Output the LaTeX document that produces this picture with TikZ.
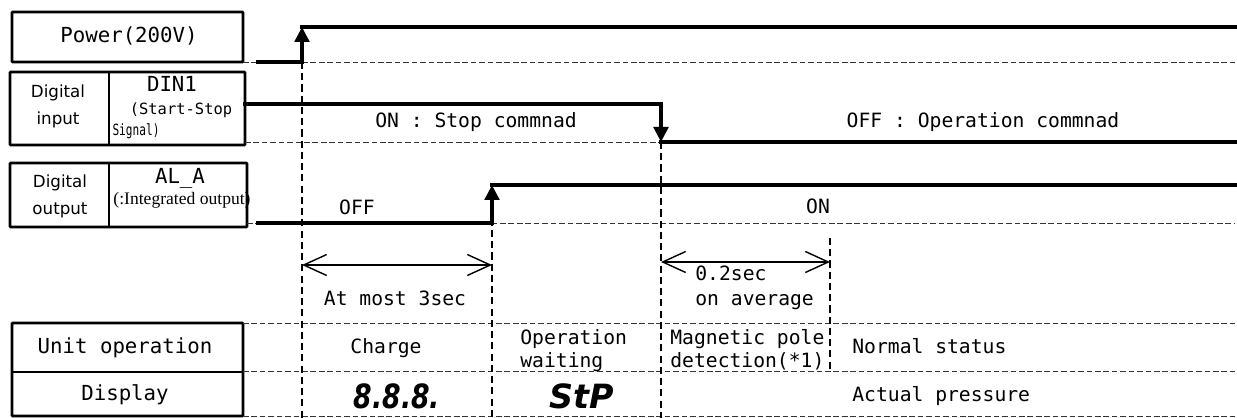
\documentclass[tikz,border=0pt]{standalone}
\usepackage{fontspec}
\setmainfont{DejaVu Sans Mono}
\newfontfamily\propfont{DejaVu Sans}
\newfontfamily\timesfont{Liberation Serif}
\newfontfamily\narrowmono[FakeStretch=0.72]{DejaVu Sans Mono}
\newfontfamily\segfont[FakeStretch=0.8]{DejaVu Sans}
\usetikzlibrary{arrows.meta}

\begin{document}
\begin{tikzpicture}[
    x=0.2mm, y=-0.2mm,
    frame/.style={line width=1.7pt, rounded corners=0.5pt},
    divider/.style={line width=0.6pt},
    signal/.style={line width=2.3pt, line cap=rect},
    edge/.style={line width=2.3pt, -{Triangle[length=3mm,width=2.9mm]}},
    level/.style={line width=0.5pt, black!80, dash pattern=on 3.2pt off 1.6pt},
    guide/.style={line width=0.9pt, dash pattern=on 4pt off 2.4pt},
    span/.style={line width=0.8pt, {Straight Barb[length=4.6mm,width=4.2mm]}-{Straight Barb[length=4.6mm,width=4.2mm]}},
    txt/.style={font=\fontsize{11.2}{13}\selectfont, inner sep=0pt},
    head/.style={font=\fontsize{11.8}{13}\selectfont, inner sep=0pt},
    small/.style={font=\propfont\fontsize{9.5}{11}\selectfont, inner sep=0pt},
    seg/.style={font=\segfont\bfseries\itshape\fontsize{19}{20}\selectfont, inner sep=0pt}
]
    \useasboundingbox (0,0) rectangle (1237,418);

    % Label boxes
    \draw[frame] (12,12) rectangle (243,62);
    \node[head] (power) at (129,36) {Power(200V)};

    \draw[frame] (10,72) rectangle (245,145);
    \draw[divider] (109,72) -- (109,145);
    \node[small] (din) at (58,93) {Digital};
    \node[small] (dinb) at (58,120) {input};
    \node[head] (din1) at (172,84) {DIN1};
    \node[txt, font=\fontsize{8.8}{10}\selectfont] (ss) at (181,110) {(Start-Stop};
    \node[txt, font=\narrowmono\fontsize{8.8}{10}\selectfont] (sig) at (136,131) {Signal)};

    \draw[frame] (10,163) rectangle (247,227);
    \draw[divider] (109,163) -- (109,227);
    \node[small] (dout) at (60,183) {Digital};
    \node[small] (doutb) at (60,210) {output};
    \node[head] (ala) at (180,178) {AL\_A};
    \node[inner sep=0pt, font=\timesfont\fontsize{10}{12}\selectfont] (integ) at (182,200) {(:Integrated output)};

    \draw[frame] (12,323) rectangle (243,416);
    \draw[divider] (12,372) -- (243,372);
    \node[head] (unit) at (125,348) {Unit operation};
    \node[head] (disp) at (125,395) {Display};

    % Level and row lines
    \draw[level] (243,62) -- (1235,62);
    \draw[level] (245,142) -- (1235,142);
    \draw[level] (247,223) -- (1235,223);
    \draw[level] (243,323) -- (1235,323);
    \draw[level] (243,371) -- (1235,371);
    \draw[level] (243,416) -- (1235,416);

    % Timing guides
    \draw[guide] (302,62) -- (302,418);
    \draw[guide] (492,185) -- (492,418);
    \draw[guide] (661,142) -- (661,418);
    \draw[guide] (830,238) -- (830,371);

    % Power
    \draw[signal] (258,62) -- (302,62);
    \draw[edge] (302,62) -- (302,27);
    \draw[signal] (302,27) -- (1235,27);

    % DIN1
    \draw[signal] (245,104) -- (661,104);
    \draw[edge] (661,104) -- (661,142);
    \draw[signal] (661,142) -- (1235,142);
    \node[txt] (stop) at (476,122) {ON : Stop commnad};
    \node[txt] (run) at (983,122) {OFF : Operation commnad};

    % AL_A
    \draw[signal] (258,223) -- (492,223);
    \draw[edge] (492,223) -- (492,185);
    \draw[signal] (492,185) -- (1235,185);
    \node[txt] (off) at (357,207) {OFF};
    \node[txt] (on) at (818,206) {ON};

    % Durations
    \draw[span] (302,265) -- (492,265);
    \node[txt] (most) at (395,298) {At most 3sec};
    \draw[span] (661,262) -- (830,262);
    \node[txt, anchor=west, align=left, font=\fontsize{11.2}{14}\selectfont] (avg) at (695,288) {0.2sec\\on average};

    % Unit operation row
    \node[txt] (charge) at (386,348) {Charge};
    \node[txt, anchor=west, align=left] (wait) at (520,351) {Operation\\waiting};
    \node[txt, anchor=west, align=left] (pole) at (670,350) {Magnetic pole\\detection(*1)};
    \node[txt, anchor=west] (normal) at (852,346) {Normal status};

    % Display row
    \node[seg] (full) at (397,396) {8.8.8.};
    \node[seg, font=\propfont\bfseries\itshape\fontsize{19}{20}\selectfont] (stp) at (582,396) {StP};
    \node[txt, anchor=west] (press) at (852,396) {Actual pressure};

\end{tikzpicture}
\end{document}
